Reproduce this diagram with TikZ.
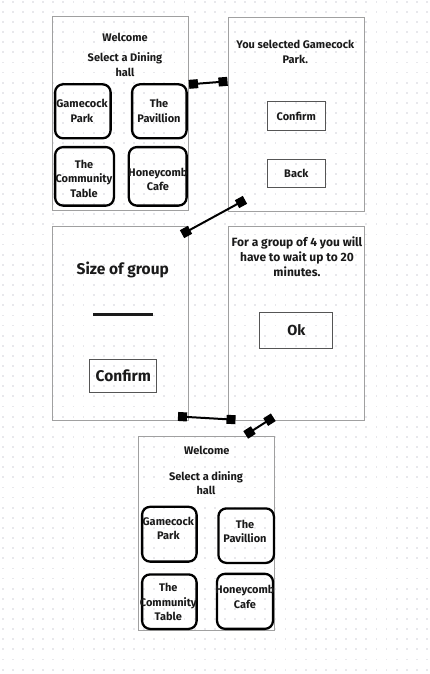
\documentclass[tikz,border=0pt]{standalone}
\usepackage{fontspec}
\setmainfont{Fira Sans}
\definecolor{framegray}{HTML}{A0A0A0}
\definecolor{btngray}{HTML}{555555}
\definecolor{txt}{HTML}{1A1A1A}
\definecolor{dotc}{HTML}{E8E8EC}
\begin{document}
\begin{tikzpicture}[x=1pt,y=-1pt,
  screen/.style={draw=framegray, line width=0.9pt, minimum width=136pt, minimum height=194pt, inner sep=0pt},
  hall/.style={draw=black, line width=2.3pt, rounded corners=8pt, inner sep=0pt},
  btn/.style={draw=btngray, line width=1pt, inner sep=0pt},
  lbl/.style={text=txt, font=\bfseries\fontsize{11}{14.5}\selectfont, align=center, inner sep=0pt},
  biglbl/.style={text=txt, font=\bfseries\fontsize{15.5}{18}\selectfont, inner sep=0pt},
  endsq/.style={fill=black, minimum size=9pt, inner sep=0pt, draw=none},
  link/.style={line width=2pt, black}]
\useasboundingbox (0,0) rectangle (429,674);
\fill[white] (0,0) rectangle (429,674);
\foreach \i in {0,...,42} {\foreach \j in {0,...,66} {\fill[dotc] (1.8+10.1*\i, 0.8+10.12*\j) rectangle ++(1.8,1.8);}}

% screens
\node[screen] (s1) at (120,113.85) {};
\node[screen] (s2) at (296.3,114.15) {};
\node[screen] (s3) at (120.3,323.35) {};
\node[screen] (s4) at (296.3,323.35) {};
\node[screen] (s5) at (206.3,533) {};

% screen 1
\node[lbl] (w1) at (125,37) {Welcome};
\node[lbl] (sel1) at (125,64.5) {Select a Dining\\hall};
\node[hall, minimum width=55.5pt, minimum height=54pt] (gp1) at (82.85,111.3) {};
\node[hall, minimum width=54.5pt, minimum height=54pt] (pv1) at (159.35,111.3) {};
\node[hall, minimum width=58.8pt, minimum height=58.5pt] (ct1) at (84.5,176.35) {};
\node[hall, minimum width=57.8pt, minimum height=58.5pt] (hc1) at (157.7,176.35) {};
\node[lbl] (gp1t) at (82,111) {Gamecock\\Park};
\node[lbl] (pv1t) at (159,111) {The\\Pavillion};
\node[lbl] (ct1t) at (84,178.5) {The\\Community\\Table};
\node[lbl] (hc1t) at (158,179.3) {Honeycomb\\Cafe};

% screen 2
\node[lbl] (ys) at (295.3,51.7) {You selected Gamecock\\Park.};
\node[btn, minimum width=58pt, minimum height=29.4pt] (cf2) at (296.3,116) {};
\node[lbl] at (cf2.center) {Confirm};
\node[btn, minimum width=58pt, minimum height=28.7pt] (bk2) at (296.3,173.35) {};
\node[lbl] at (bk2.center) {Back};

% screen 3
\node[biglbl] (sz) at (122.8,270) {Size of group};
\draw[line width=3pt, txt] (93,314.3) -- (153.3,314.3);
\node[btn, minimum width=66.7pt, minimum height=33.4pt] (cf3) at (123.3,376) {};
\node[biglbl] at (cf3.center) {Confirm};

% screen 4
\node[lbl, font=\bfseries\fontsize{12}{15.3}\selectfont] (wait) at (297,256.7) {For a group of 4 you will\\have to wait up to 20\\minutes.};
\node[btn, minimum width=72.7pt, minimum height=35.6pt] (ok) at (296.3,330.5) {};
\node[biglbl, font=\bfseries\fontsize{14.5}{17}\selectfont] at (ok.center) {Ok};

% screen 5
\node[lbl] (w5) at (206.8,450.3) {Welcome};
\node[lbl] (sel5) at (206,483.2) {Select a dining\\hall};
\node[hall, minimum width=54.5pt, minimum height=54.8pt] (gp5) at (169.35,534.2) {};
\node[hall, minimum width=55.5pt, minimum height=54.5pt] (pv5) at (246.15,535.65) {};
\node[hall, minimum width=54.5pt, minimum height=54.5pt] (ct5) at (169.35,601.65) {};
\node[hall, minimum width=56pt, minimum height=55pt] (hc5) at (245,601.35) {};
\node[lbl] (gp5t) at (168.3,528.2) {Gamecock\\Park};
\node[lbl] (pv5t) at (245,531.5) {The\\Pavillion};
\node[lbl] (ct5t) at (168.3,602.3) {The\\Community\\Table};
\node[lbl] (hc5t) at (245,596.7) {Honeycomb\\Cafe};

% connectors
\node[endsq, rotate=4.5] (c1a) at (193.5,84) {};
\node[endsq, rotate=4.5] (c1b) at (223,81.7) {};
\draw[link] (c1a.center) -- (c1b.center);
\node[endsq, rotate=28.6] (c2a) at (186,232) {};
\node[endsq, rotate=28.6] (c2b) at (241,202) {};
\draw[link] (c2a.center) -- (c2b.center);
\node[endsq, rotate=-3.3] (c3a) at (182.5,416.7) {};
\node[endsq, rotate=-3.3] (c3b) at (231,419.5) {};
\draw[link] (c3a.center) -- (c3b.center);
\node[endsq, rotate=32.6] (c4a) at (249.5,432.5) {};
\node[endsq, rotate=32.6] (c4b) at (269.5,419.7) {};
\draw[link] (c4a.center) -- (c4b.center);
\end{tikzpicture}
\end{document}
